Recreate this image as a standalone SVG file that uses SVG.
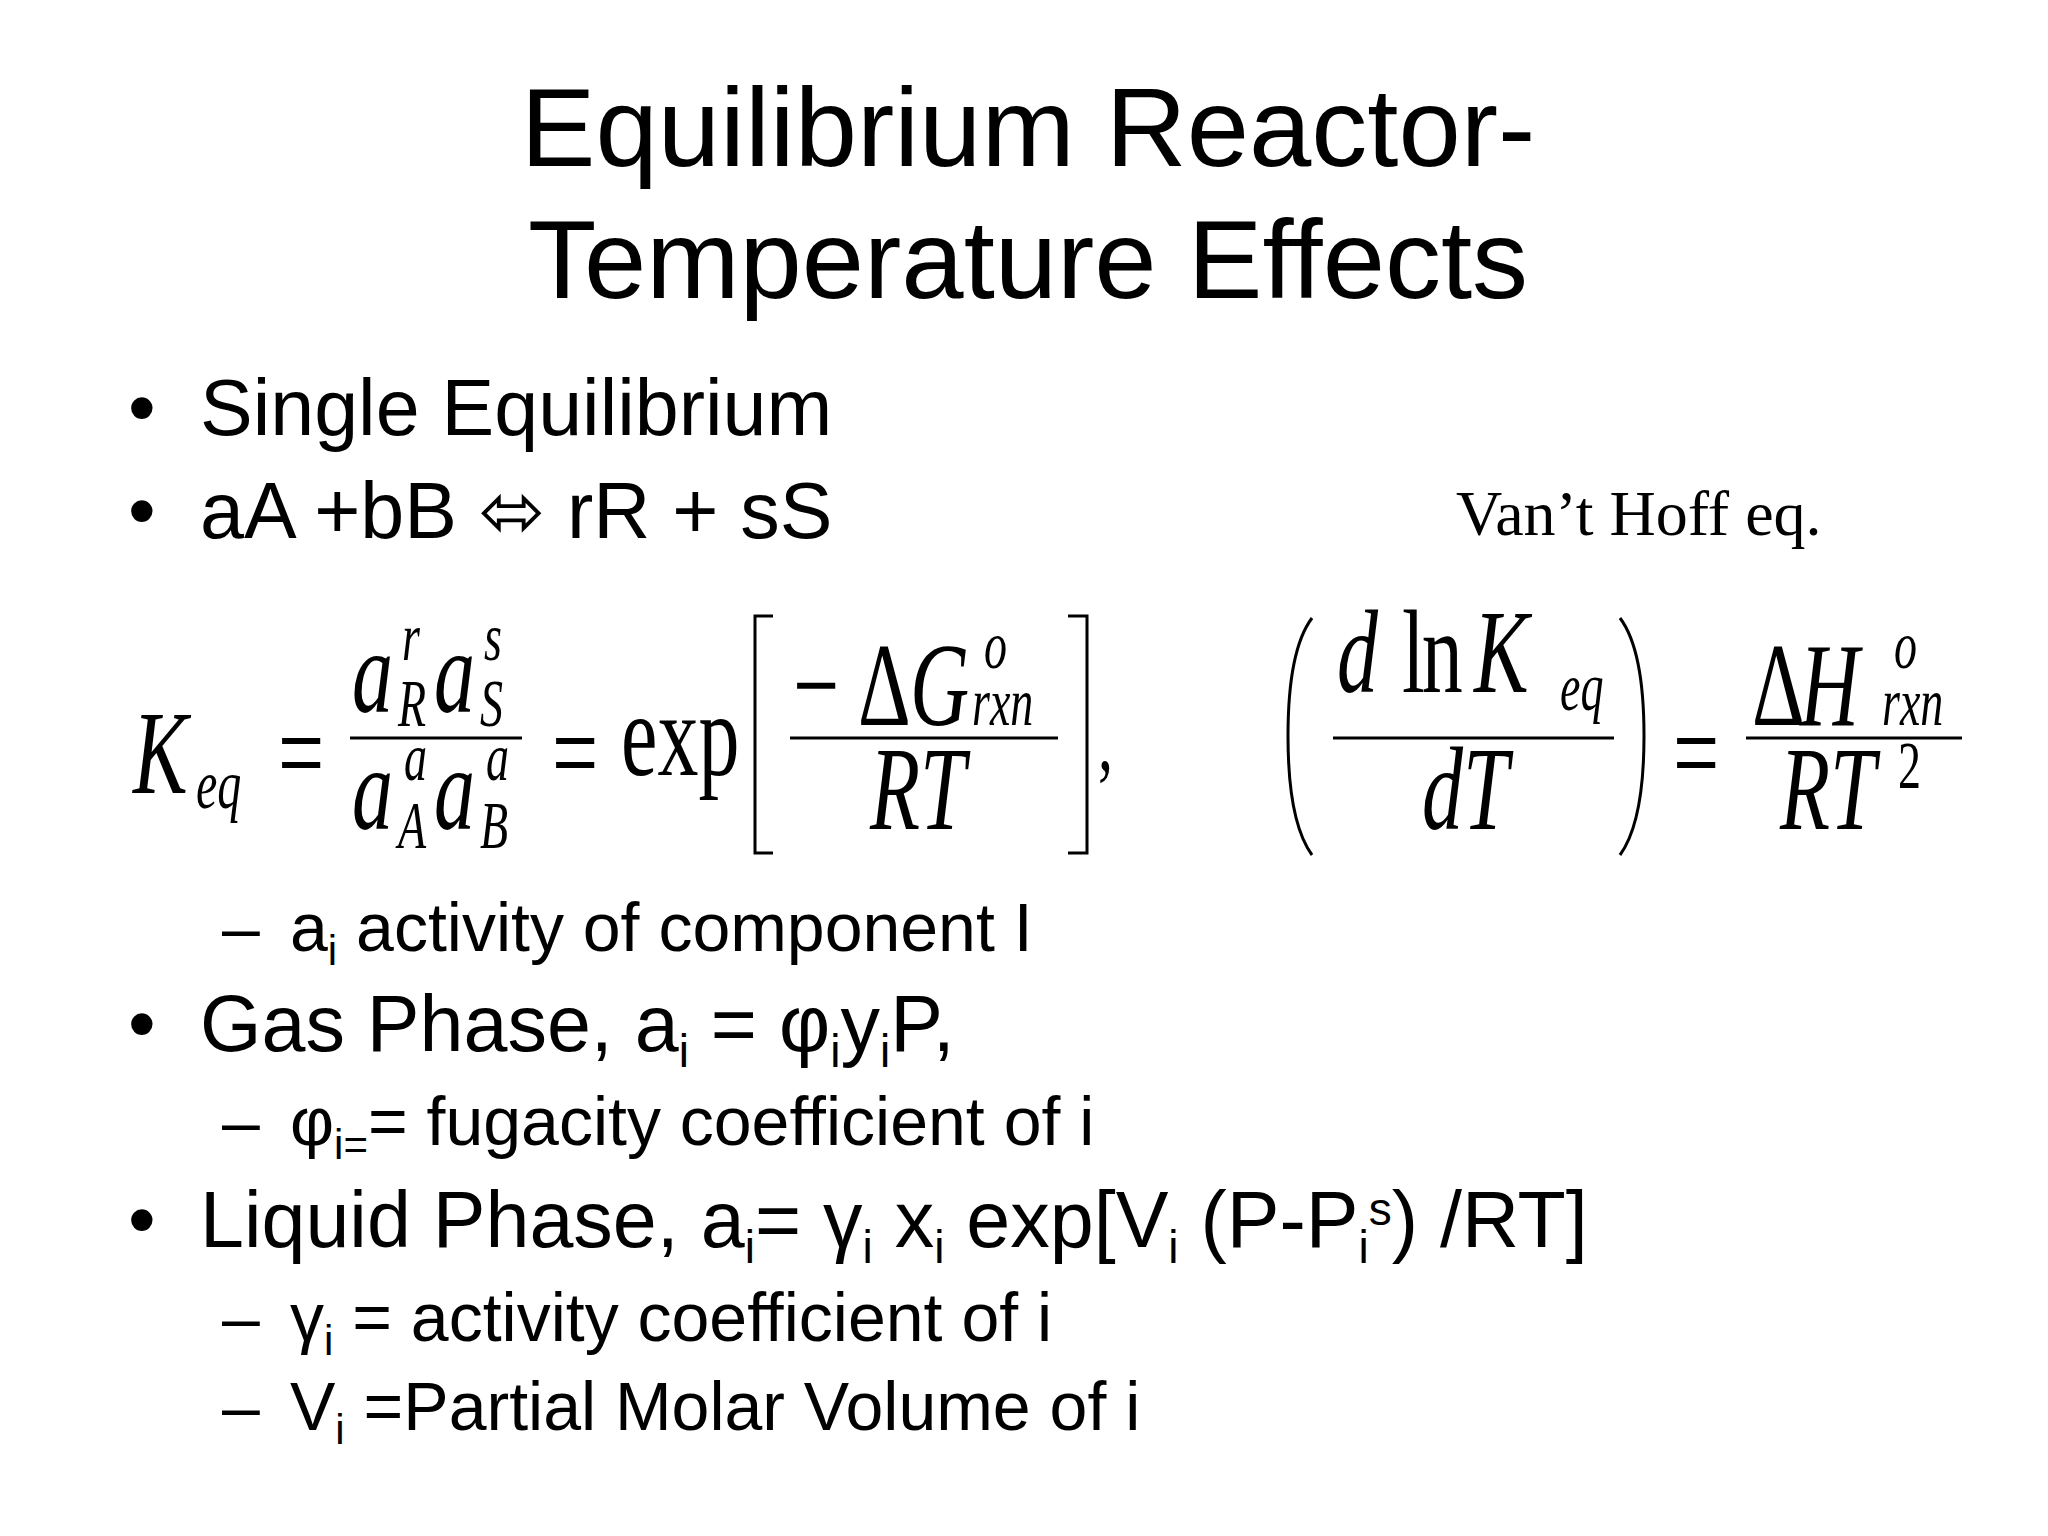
<svg xmlns="http://www.w3.org/2000/svg" width="2048" height="1536" viewBox="0 0 2048 1536">
<style>
.s{font-family:"Liberation Sans",Arial,sans-serif;fill:#000}
.t{font-size:112px}
.b{font-size:79px}
.sb{font-size:68px}
.m{font-family:"Liberation Serif","Times New Roman",serif;font-style:italic;fill:#000}
.r{font-family:"Liberation Serif","Times New Roman",serif;fill:#000}
.ln{stroke:#000;stroke-width:3;fill:none}
</style>
<rect width="2048" height="1536" fill="#fff"/>
<g id="title" class="s t" text-anchor="middle">
<text x="1028" y="166">Equilibrium Reactor-</text>
<text x="1028" y="298">Temperature Effects</text>
</g>
<g id="bullets" class="s">
<text class="b" x="128" y="435">•</text><text class="b" x="200" y="435">Single Equilibrium</text>
<text class="b" x="128" y="538">•</text><text class="b" x="200" y="538">aA +bB ⬄ rR + sS</text>
<text class="sb" x="222" y="951">–</text><text class="sb" x="290" y="951">a<tspan font-size="42" dy="14">i</tspan><tspan dy="-14"> activity of component I</tspan></text>
<text class="b" x="128" y="1051">•</text><text class="b" x="200" y="1051">Gas Phase, a<tspan font-size="46" dy="16">i</tspan><tspan dy="-16"> = φ</tspan><tspan font-size="46" dy="16">i</tspan><tspan dy="-16">y</tspan><tspan font-size="46" dy="16">i</tspan><tspan dy="-16">P,</tspan></text>
<text class="sb" x="222" y="1145">–</text><text class="sb" x="290" y="1145">φ<tspan font-size="42" dy="14">i=</tspan><tspan dy="-14">= fugacity coefficient of i</tspan></text>
<text class="b" x="128" y="1247">•</text><text class="b" x="200" y="1247">Liquid Phase, a<tspan font-size="46" dy="16">i</tspan><tspan dy="-16">= γ</tspan><tspan font-size="46" dy="16">i</tspan><tspan dy="-16"> x</tspan><tspan font-size="46" dy="16">i</tspan><tspan dy="-16"> exp[V</tspan><tspan font-size="46" dy="16">i</tspan><tspan dy="-16"> (P-P</tspan><tspan font-size="46" dy="16">i</tspan><tspan font-size="46" dy="-38">s</tspan><tspan dy="22">) /RT]</tspan></text>
<text class="sb" x="222" y="1341">–</text><text class="sb" x="290" y="1341">γ<tspan font-size="42" dy="14">i</tspan><tspan dy="-14"> = activity coefficient of i</tspan></text>
<text class="sb" x="222" y="1430">–</text><text class="sb" x="290" y="1430">V<tspan font-size="42" dy="14">i</tspan><tspan dy="-14"> =Partial Molar Volume of i</tspan></text>
</g>
<g id="vanthoff"><text class="r" x="1456" y="535" font-size="64">Van’t Hoff eq.</text></g>
<g id="eq1">
<text class="m" transform="translate(133,793) scale(1,1.45)" font-size="82">K</text>
<text class="m" transform="translate(196,808) scale(1,1.45)" font-size="48">eq</text>
<text class="r" transform="translate(278,793) scale(1,1.45)" font-size="82">=</text>
<text class="m" transform="translate(352,712) scale(1,1.45)" font-size="82">a</text>
<text class="m" transform="translate(402,660) scale(1,1.45)" font-size="46">r</text>
<text class="m" transform="translate(398,726) scale(1,1.45)" font-size="46">R</text>
<text class="m" transform="translate(434,712) scale(1,1.45)" font-size="82">a</text>
<text class="m" transform="translate(484,660) scale(1,1.45)" font-size="46">s</text>
<text class="m" transform="translate(480,726) scale(1,1.45)" font-size="46">S</text>
<line class="ln" x1="350" y1="738" x2="522" y2="738"/>
<text class="m" transform="translate(352,829) scale(1,1.45)" font-size="82">a</text>
<text class="m" transform="translate(404,780) scale(1,1.45)" font-size="46">a</text>
<text class="m" transform="translate(398,848) scale(1,1.45)" font-size="46">A</text>
<text class="m" transform="translate(434,829) scale(1,1.45)" font-size="82">a</text>
<text class="m" transform="translate(486,780) scale(1,1.45)" font-size="46">a</text>
<text class="m" transform="translate(480,848) scale(1,1.45)" font-size="46">B</text>
<text class="r" transform="translate(552,793) scale(1,1.45)" font-size="82">=</text>
<text class="r" transform="translate(621,775) scale(1,1.45)" font-size="82">exp</text>
<path class="ln" d="M773,616 H755 V853 H773" stroke-width="4"/>
<text class="r" transform="translate(793,725) scale(1,1.45)" font-size="82">−</text>
<text class="r" transform="translate(858,725) scale(1,1.45)" font-size="82">Δ</text>
<text class="m" transform="translate(910,725) scale(1,1.45)" font-size="82">G</text>
<text class="m" transform="translate(984,668) scale(1,1.45)" font-size="46">o</text>
<text class="m" transform="translate(972,725) scale(1,1.45)" font-size="46">rxn</text>
<line class="ln" x1="790" y1="738" x2="1058" y2="738"/>
<text class="m" transform="translate(870,829) scale(1,1.45)" font-size="82">RT</text>
<path class="ln" d="M1068,616 H1087 V853 H1068" stroke-width="4"/>
<text class="r" transform="translate(1098,770) scale(1,1.45)" font-size="60">,</text>
</g>
<g id="eq2">
<path class="ln" d="M1312,618 Q1288,650 1288,736 Q1288,822 1312,855"/>
<text class="m" transform="translate(1337,692) scale(1,1.45)" font-size="82">d</text>
<text class="r" transform="translate(1402,692) scale(1,1.45)" font-size="82" letter-spacing="-3">ln</text>
<text class="m" transform="translate(1474,692) scale(1,1.45)" font-size="82">K</text>
<text class="m" transform="translate(1560,710) scale(1,1.45)" font-size="46">eq</text>
<line class="ln" x1="1333" y1="738" x2="1614" y2="738"/>
<text class="m" transform="translate(1422,829) scale(1,1.45)" font-size="82">dT</text>
<path class="ln" d="M1620,618 Q1644,650 1644,736 Q1644,822 1620,855"/>
<text class="r" transform="translate(1673,793) scale(1,1.45)" font-size="82">=</text>
<text class="r" transform="translate(1752,725) scale(1,1.45)" font-size="82">Δ</text>
<text class="m" transform="translate(1800,725) scale(1,1.45)" font-size="82">H</text>
<text class="m" transform="translate(1894,668) scale(1,1.45)" font-size="46">o</text>
<text class="m" transform="translate(1882,725) scale(1,1.45)" font-size="46">rxn</text>
<line class="ln" x1="1746" y1="738" x2="1962" y2="738"/>
<text class="m" transform="translate(1780,829) scale(1,1.45)" font-size="82">RT</text>
<text class="r" transform="translate(1898,788) scale(1,1.45)" font-size="46">2</text>
</g>
</svg>
